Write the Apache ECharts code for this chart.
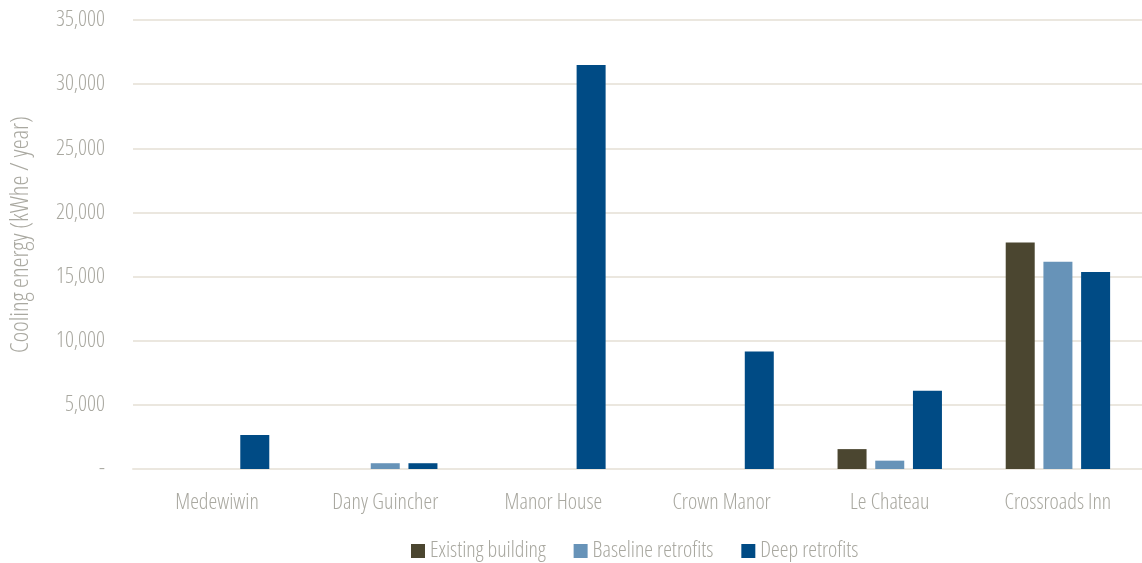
<!DOCTYPE html>
<html>
<head>
<meta charset="utf-8">
<script src="https://cdn.jsdelivr.net/npm/echarts@6/dist/echarts.min.js"></script>
<style>
  html, body { margin: 0; padding: 0; background: #fff; }
  #chart { width: 1142px; height: 563px; }
</style>
</head>
<body>
<div id="chart"></div>
<script>
// Annual cooling energy per building, kWhe / year
const categories = ['Medewiwin', 'Dany Guincher', 'Manor House', 'Crown Manor', 'Le Chateau', 'Crossroads Inn'];
const existingBuilding = [0, 0, 0, 0, 1550, 17650];
const baselineRetrofits = [0, 450, 0, 0, 650, 16150];
const deepRetrofits = [2650, 450, 31500, 9150, 6100, 15350];

const FONT = '"Open Sans", sans-serif';
const WEIGHT = 'condensed 300';
const TEXT = '#a9a8a0';
const GRID = '#ebe7df';

const chart = echarts.init(document.getElementById('chart'));

function barSeries(name, data, color) {
  return {
    name: name,
    type: 'bar',
    data: data.map(v => (v === 0 ? null : v)),
    barWidth: 29,
    barGap: '30%',
    itemStyle: { color: color }
  };
}

const label = { color: TEXT, fontSize: 22, fontFamily: FONT, fontWeight: WEIGHT };

chart.setOption({
  animation: false,
  grid: { left: 128, right: 0, top: 20, bottom: 94 },
  legend: {
    top: 535,
    left: 406,
    itemWidth: 14,
    itemHeight: 14,
    itemGap: 28,
    icon: 'rect',
    textStyle: Object.assign({}, label),
    data: ['Existing building', 'Baseline retrofits', 'Deep retrofits']
  },
  xAxis: {
    type: 'category',
    data: categories,
    axisLine: { lineStyle: { color: GRID, width: 2 } },
    axisTick: { show: false },
    axisLabel: Object.assign({ margin: 23 }, label)
  },
  yAxis: {
    type: 'value',
    min: 0,
    max: 35000,
    interval: 5000,
    name: 'Cooling energy (kWhe / year)',
    nameLocation: 'middle',
    nameGap: 100,
    nameTextStyle: Object.assign({}, label, { fontSize: 25, padding: [0, 0, 0, 20] }),
    axisLine: { show: false },
    axisTick: { show: false },
    splitLine: { lineStyle: { color: GRID, width: 2 } },
    axisLabel: Object.assign({
      margin: 28,
      formatter: v => (v === 0 ? '-' : v.toLocaleString('en-US'))
    }, label)
  },
  series: [
    barSeries('Existing building', existingBuilding, '#4b4630'),
    barSeries('Baseline retrofits', baselineRetrofits, '#6793b8'),
    barSeries('Deep retrofits', deepRetrofits, '#004b85')
  ]
});
</script>
</body>
</html>
